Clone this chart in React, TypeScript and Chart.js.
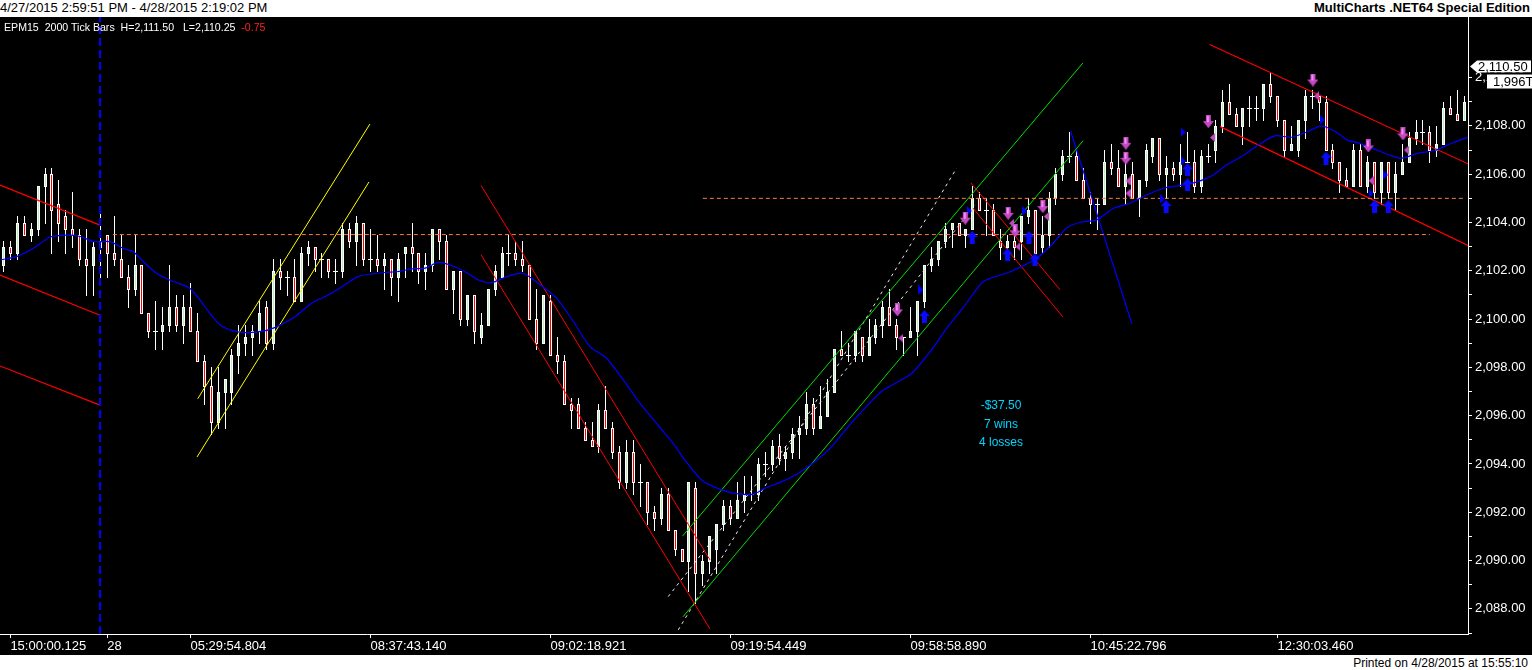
import React, { useEffect, useRef } from 'react';
import { Chart, registerables } from 'chart.js';

Chart.register(...registerables);

// ---------- DATA ----------
const opens = [
  2102.25, 2103.0, 2102.75, 2104.0, 2103.5, 2103.75, 2105.5, 2106.0, 2104.75, 2104.25,
  2103.75, 2103.5, 2102.5, 2102.25, 2103.0, 2103.5, 2102.75, 2102.5, 2101.75, 2101.25,
  2102.25, 2100.25, 2099.5, 2099.5, 2099.75, 2100.5, 2099.75, 2100.5, 2099.5, 2098.25,
  2097.25, 2095.75, 2097.0, 2097.0, 2098.5, 2099.0, 2099.25, 2099.5, 2100.5, 2099.0,
  2102.0, 2101.75, 2101.75, 2100.75, 2102.75, 2103.0, 2102.5, 2102.5, 2102.0, 2102.0,
  2103.75, 2103.25, 2104.0, 2102.5, 2102.5, 2102.25, 2102.5, 2101.75, 2102.75, 2103.0,
  2102.75, 2102.0, 2102.25, 2103.75, 2103.25, 2101.25, 2102.0, 2100.0, 2101.0, 2099.25,
  2099.75, 2101.25, 2101.75, 2102.75, 2102.75, 2102.5, 2102.25, 2100.0, 2099.0, 2100.75,
  2098.5, 2098.25, 2096.5, 2096.5, 2095.5, 2095.0, 2094.75, 2096.25, 2095.5, 2094.5,
  2093.25, 2094.5, 2093.25, 2093.25, 2092.0, 2091.75, 2092.75, 2091.25, 2090.5, 2090.0,
  2093.0, 2089.5, 2090.0, 2090.5, 2091.5, 2092.25, 2091.75, 2092.5, 2092.75, 2092.75,
  2094.0, 2094.0, 2094.75, 2094.25, 2094.5, 2095.25, 2095.5, 2096.5, 2095.5, 2096.0,
  2097.0, 2098.75, 2098.5, 2098.5, 2099.25, 2098.5, 2099.25, 2099.75, 2100.5, 2099.75,
  2099.25, 2099.25, 2099.5, 2100.75, 2102.25, 2102.5, 2103.25, 2103.75, 2104.0, 2103.5,
  2103.75, 2105.0, 2104.5, 2104.5, 2103.25, 2103.0, 2103.25, 2103.25, 2104.25, 2104.5,
  2103.0, 2103.5, 2105.0, 2106.0, 2106.75, 2106.75, 2105.75, 2105.0, 2104.75, 2104.75,
  2106.5, 2106.25, 2105.5, 2106.0, 2105.0, 2105.75, 2106.75, 2107.5, 2106.0, 2106.25,
  2106.0, 2106.5, 2106.5, 2105.5, 2106.75, 2107.0, 2108.0, 2109.0, 2108.5, 2108.0,
  2108.75, 2108.75, 2108.75, 2109.75, 2109.25, 2108.25, 2107.0, 2107.0, 2108.25, 2109.25,
  2109.25, 2109.0, 2107.0, 2106.5, 2105.75, 2105.5, 2107.0, 2105.5, 2106.5, 2105.25,
  2106.5, 2105.25, 2106.0, 2106.5, 2107.5, 2107.75, 2107.75, 2107.0, 2107.25, 2108.75,
  2108.5, 2108.25,
];
const highs = [
  2103.25, 2103.25, 2104.25, 2104.25, 2104.0, 2105.5, 2106.25, 2106.25, 2105.75, 2104.5,
  2105.25, 2103.75, 2103.75, 2103.25, 2104.5, 2103.5, 2104.25, 2103.5, 2102.25, 2103.5,
  2102.25, 2100.25, 2100.75, 2100.5, 2102.25, 2101.0, 2101.0, 2101.5, 2100.25, 2098.5,
  2098.0, 2098.0, 2097.5, 2098.75, 2099.75, 2099.75, 2099.75, 2100.75, 2100.75, 2102.5,
  2102.5, 2102.0, 2102.5, 2103.0, 2103.25, 2103.0, 2102.75, 2102.5, 2102.5, 2104.0,
  2104.0, 2104.25, 2104.0, 2103.75, 2103.5, 2102.75, 2102.5, 2102.75, 2103.0, 2104.0,
  2102.75, 2102.75, 2103.75, 2103.75, 2103.5, 2102.0, 2102.0, 2101.0, 2101.0, 2100.25,
  2101.25, 2102.25, 2103.0, 2103.5, 2103.25, 2103.25, 2102.25, 2101.25, 2101.0, 2101.0,
  2099.25, 2098.5, 2096.75, 2096.75, 2095.75, 2095.75, 2096.5, 2097.25, 2095.75, 2094.75,
  2095.0, 2095.0, 2094.0, 2093.25, 2092.25, 2093.0, 2093.0, 2091.25, 2090.5, 2093.25,
  2093.25, 2090.25, 2091.0, 2091.5, 2092.5, 2092.5, 2093.25, 2093.5, 2093.5, 2094.25,
  2094.5, 2095.0, 2095.25, 2094.75, 2095.5, 2096.0, 2097.0, 2096.75, 2097.25, 2097.5,
  2098.75, 2099.5, 2099.0, 2099.5, 2099.25, 2100.0, 2100.0, 2100.75, 2101.25, 2100.0,
  2099.25, 2100.5, 2100.75, 2102.25, 2103.0, 2103.25, 2104.0, 2104.0, 2104.0, 2103.75,
  2105.5, 2105.25, 2105.0, 2104.75, 2103.75, 2103.5, 2103.5, 2104.25, 2105.0, 2104.5,
  2104.25, 2105.25, 2106.25, 2107.0, 2107.75, 2107.0, 2106.25, 2105.25, 2105.0, 2107.0,
  2107.25, 2107.0, 2106.5, 2106.5, 2105.75, 2107.25, 2107.5, 2107.5, 2106.75, 2106.5,
  2107.25, 2107.75, 2107.0, 2107.0, 2107.25, 2108.25, 2109.5, 2109.75, 2108.75, 2108.75,
  2109.25, 2109.25, 2109.75, 2110.25, 2109.25, 2108.25, 2108.0, 2108.25, 2109.5, 2109.5,
  2109.25, 2109.25, 2107.25, 2106.5, 2106.25, 2107.25, 2107.25, 2106.75, 2106.5, 2106.5,
  2106.5, 2106.5, 2107.25, 2107.75, 2108.25, 2108.25, 2108.0, 2108.0, 2109.0, 2109.25,
  2109.5, 2109.25,
];
const lows = [
  2102.0, 2102.5, 2102.5, 2103.5, 2103.25, 2103.5, 2104.0, 2102.75, 2103.25, 2102.75,
  2103.0, 2102.25, 2101.0, 2101.0, 2101.75, 2101.75, 2102.25, 2101.75, 2100.5, 2101.0,
  2100.25, 2099.25, 2098.75, 2098.75, 2099.5, 2099.5, 2099.0, 2099.5, 2098.25, 2096.5,
  2095.25, 2095.5, 2095.5, 2096.5, 2097.75, 2098.5, 2098.5, 2099.0, 2098.75, 2098.75,
  2101.25, 2101.0, 2100.75, 2100.75, 2102.25, 2102.0, 2101.75, 2101.75, 2101.5, 2101.75,
  2103.0, 2102.25, 2102.25, 2102.0, 2102.0, 2101.25, 2101.0, 2100.75, 2101.75, 2102.0,
  2101.5, 2101.25, 2102.0, 2102.5, 2101.25, 2100.25, 2099.75, 2099.75, 2099.0, 2099.0,
  2099.75, 2101.0, 2101.75, 2102.25, 2102.25, 2102.0, 2100.0, 2098.75, 2099.0, 2098.5,
  2097.75, 2096.5, 2095.5, 2095.5, 2095.0, 2094.75, 2094.5, 2095.5, 2094.25, 2093.0,
  2093.0, 2092.75, 2092.25, 2091.5, 2091.25, 2091.5, 2091.25, 2090.25, 2090.0, 2088.75,
  2088.25, 2089.0, 2089.5, 2089.5, 2091.25, 2091.5, 2091.75, 2092.0, 2092.5, 2092.5,
  2093.5, 2093.75, 2094.0, 2093.75, 2094.25, 2094.25, 2095.25, 2095.25, 2095.5, 2096.0,
  2097.0, 2098.5, 2098.25, 2098.25, 2098.25, 2098.5, 2099.0, 2099.25, 2099.75, 2098.75,
  2098.5, 2099.25, 2098.5, 2100.5, 2102.0, 2102.25, 2103.0, 2103.0, 2103.5, 2103.0,
  2103.75, 2104.5, 2103.5, 2103.5, 2102.5, 2102.5, 2102.5, 2102.5, 2104.0, 2102.75,
  2102.75, 2103.0, 2104.75, 2105.75, 2106.5, 2105.75, 2105.0, 2104.0, 2103.75, 2104.75,
  2106.0, 2105.5, 2104.75, 2105.0, 2104.25, 2105.5, 2106.5, 2105.75, 2105.0, 2105.75,
  2105.5, 2106.5, 2105.25, 2105.25, 2106.5, 2106.5, 2107.75, 2108.5, 2108.0, 2107.25,
  2108.0, 2108.25, 2108.25, 2109.0, 2108.0, 2106.75, 2107.0, 2106.75, 2107.5, 2108.75,
  2108.25, 2107.0, 2106.25, 2105.25, 2105.5, 2105.5, 2105.5, 2105.25, 2105.0, 2104.75,
  2105.0, 2104.5, 2106.0, 2106.5, 2107.25, 2107.25, 2106.5, 2106.75, 2107.25, 2108.5,
  2108.25, 2108.25,
];
const closes = [
  2103.0, 2102.75, 2104.0, 2103.5, 2103.75, 2105.5, 2106.0, 2104.5, 2104.0, 2103.75,
  2103.5, 2102.5, 2102.25, 2103.0, 2103.25, 2102.75, 2102.5, 2101.75, 2101.25, 2102.25,
  2100.25, 2099.5, 2099.5, 2099.75, 2100.5, 2099.75, 2100.5, 2099.5, 2098.25, 2097.25,
  2095.75, 2097.0, 2097.5, 2098.5, 2099.0, 2099.25, 2099.5, 2100.25, 2099.0, 2102.0,
  2101.75, 2101.75, 2100.75, 2102.75, 2103.0, 2102.5, 2102.5, 2102.0, 2102.0, 2103.75,
  2103.25, 2104.0, 2102.5, 2102.5, 2102.25, 2102.5, 2101.75, 2102.5, 2103.0, 2102.75,
  2102.0, 2102.25, 2103.75, 2103.25, 2101.25, 2102.0, 2100.0, 2101.0, 2099.5, 2099.75,
  2101.25, 2102.0, 2102.75, 2102.75, 2102.5, 2102.25, 2100.0, 2099.0, 2101.0, 2098.5,
  2098.25, 2096.5, 2096.25, 2095.5, 2095.0, 2094.75, 2096.25, 2095.5, 2094.5, 2093.25,
  2094.5, 2093.25, 2093.25, 2092.0, 2091.75, 2092.75, 2091.25, 2090.5, 2090.0, 2093.25,
  2089.5, 2090.0, 2091.0, 2091.5, 2092.25, 2091.75, 2092.5, 2092.75, 2092.75, 2094.0,
  2094.0, 2094.75, 2094.25, 2094.5, 2095.25, 2095.5, 2096.5, 2095.5, 2096.0, 2097.0,
  2098.75, 2098.5, 2098.5, 2099.5, 2098.5, 2099.25, 2099.75, 2100.5, 2099.75, 2099.25,
  2099.25, 2099.5, 2100.75, 2102.25, 2102.5, 2103.25, 2103.75, 2104.0, 2103.5, 2103.75,
  2105.0, 2104.5, 2104.5, 2103.5, 2103.0, 2103.25, 2103.0, 2104.25, 2104.5, 2102.75,
  2103.5, 2105.0, 2106.0, 2106.75, 2106.75, 2105.75, 2105.0, 2104.75, 2104.75, 2106.5,
  2106.25, 2105.5, 2106.0, 2105.0, 2105.75, 2107.0, 2107.5, 2106.0, 2106.25, 2106.0,
  2106.5, 2106.5, 2105.5, 2106.75, 2106.75, 2108.0, 2109.0, 2108.5, 2108.0, 2108.75,
  2108.75, 2108.75, 2109.75, 2109.25, 2108.25, 2107.0, 2107.25, 2108.25, 2109.25, 2109.25,
  2109.0, 2107.0, 2106.5, 2105.75, 2105.5, 2107.0, 2105.5, 2106.5, 2105.25, 2106.5,
  2105.25, 2106.0, 2106.5, 2107.5, 2107.75, 2107.75, 2107.0, 2107.25, 2108.75, 2108.5,
  2108.25, 2109.0,
];

// moving average (bar position, price)
const maBars = [
  -0.4, 2, 4.3, 6.7, 9.1, 11.1, 13, 15.4, 17.3, 18.75, 20.2, 22.1, 24, 25.5, 26.9, 28.4, 29.8, 31.3, 33.2, 35.1,
  37.8, 39.7, 42.1, 44.5, 46.9, 49.3, 51.2, 53.2, 55.1, 57, 59, 60.9, 62.8, 64.7, 66.6, 68.6, 70.5, 72.7, 75,
  77.5, 79.9, 82.3, 84.7, 87.1, 89.5, 91.9, 94.3, 95.5, 96.7, 98.4, 100.8, 103.7, 106.1, 108.3, 110, 112.4,
  114.8, 117.2, 119.6, 122, 124.4, 126.8, 129.2, 131.2, 134, 136.4, 138.9, 141.5, 145.3, 149.2, 151.6, 153.5,
  155.5, 157.9, 160.3, 162.7, 165.1, 167.5, 169.9, 172.3, 174.7, 176.4, 178.8, 181.2, 183.6, 186, 188.4, 190.3,
  192.3, 194.2, 195.6, 198.1, 200.5, 201.9, 204.3, 206.7, 209.1, 211.5,
];
const maValues = [
  2102.45, 2102.6, 2102.93, 2103.39, 2103.48, 2103.42, 2103.21, 2103.21, 2102.93, 2102.79, 2102.38, 2101.9, 2101.62, 2101.46, 2101.28, 2100.79, 2100.24, 2099.76, 2099.51, 2099.44,
  2099.52, 2099.72, 2100.1, 2100.66, 2101.0, 2101.42, 2101.76, 2101.87, 2101.93, 2101.97, 2102.08, 2102.11, 2102.35, 2102.22, 2101.97, 2101.62, 2101.51, 2101.76, 2101.9,
  2101.42, 2100.86, 2099.9, 2098.86, 2098.38, 2097.48, 2096.52, 2095.69, 2095.27, 2094.86, 2094.17, 2093.34, 2092.93, 2092.76, 2092.75, 2093.0, 2093.27,
  2093.62, 2094.1, 2094.72, 2095.55, 2096.31, 2097.0, 2097.41, 2097.76, 2098.72, 2099.69, 2100.59, 2101.55, 2101.95, 2102.52, 2103.14, 2103.76,
  2104.01, 2104.11, 2104.59, 2104.8, 2105.14, 2105.42, 2105.53, 2105.67, 2105.97, 2106.34, 2106.73, 2107.21, 2107.59, 2107.53, 2107.77, 2108.0,
  2107.77, 2107.39, 2107.31, 2107.03, 2106.76, 2106.66, 2106.87, 2106.98, 2107.28, 2107.53,
];

// drawn lines: [barFrom, priceFrom, barTo, priceTo]
const leftChannel = [
  [-0.5, 2105.55, 13.85, 2103.9],
  [-0.5, 2101.82, 13.85, 2100.17],
  [-0.5, 2098.06, 13.85, 2096.45],
];
const yellowChannel = [
  [28.05, 2096.7, 52.93, 2108.08],
  [27.95, 2094.29, 52.79, 2105.68],
];
const fallingChannel = [
  [68.96, 2105.54, 102.03, 2090.03],
  [68.96, 2102.67, 102.03, 2087.17],
];
const greenChannel = [
  [98.08, 2091.02, 155.9, 2110.61],
  [98.13, 2087.67, 155.9, 2107.38],
];
const whiteDashLines = [
  [97.45, 2087.13, 137.65, 2106.25],
  [96.0, 2088.51, 140.3, 2104.73],
];
const shortRedLines = [
  [139.7, 2105.64, 152.6, 2101.21],
  [140.0, 2104.6, 153.0, 2100.09],
];
const blueSteepLines = [[154.1, 2107.79, 162.96, 2099.8]];
const rightChannel = [
  [174.2, 2111.37, 211.5, 2106.43],
  [175.7, 2107.97, 211.5, 2103.05],
];
// horizontal levels: [barFrom, barTo, price]
const levelLines = [
  [15.8, 206.0, 2103.5],
  [101.0, 211.05, 2105.0],
];
const sessionBreakBar = 13.95;

// trade markers: [bar, price]
const sellArrows = [
  [129.1, 2100.38], [138.9, 2104.18], [145.1, 2104.38], [146.1, 2103.65], [150.1, 2104.66],
  [162.1, 2107.28], [162.1, 2106.66], [174.0, 2108.18], [189.1, 2109.9], [197.1, 2107.17], [202.1, 2107.67],
];
const buyArrows = [
  [133.0, 2100.1], [139.9, 2103.38], [145.0, 2102.66], [148.1, 2103.38], [148.96, 2102.45],
  [167.9, 2104.66], [171.0, 2106.18], [171.0, 2105.56], [191.0, 2106.66], [198.0, 2104.66], [200.0, 2104.66],
];
const exitLeftMarks = [
  [129.6, 2099.21], [145.6, 2103.97], [150.6, 2104.25], [146.5, 2103.0], [162.4, 2105.72],
  [162.4, 2105.21], [174.6, 2107.52], [189.6, 2109.24], [197.5, 2105.73], [202.6, 2107.0],
];
const exitRightMarks = [
  [132.5, 2101.21], [139.5, 2104.48], [147.5, 2104.48], [167.4, 2104.98], [170.4, 2106.55],
  [170.4, 2107.74], [190.5, 2108.25], [197.5, 2105.21], [199.6, 2105.97],
];

// axes
const tickBars = [1, 15, 27, 53, 79, 105, 131, 157, 184];
const timeLabels = ['15:00:00.125', '28', '05:29:54.804', '08:37:43.140', '09:02:18.921', '09:19:54.449', '09:58:58.890', '10:45:22.796', '12:30:03.460'];
const priceTicks = [2088, 2090, 2092, 2094, 2096, 2098, 2100, 2102, 2104, 2106, 2108, 2110];
const priceMin = 2086.96;
const priceMax = 2112.51;
const lastPrice = 2110.5;
const tickCountLabel = '1,996T';
const headerRange = '4/27/2015 2:59:51 PM - 4/28/2015 2:19:02 PM';
const statLines = ['-$37.50', '7 wins', '4 losses'];

// ---------- RENDER ----------
const FONT = '"Liberation Sans", Arial, sans-serif';
const UP_FILL = '#b8f0b8';
const DOWN_FILL = '#ff0000';

function makeMarker(kind: string): HTMLCanvasElement {
  const c = document.createElement('canvas');
  const ctx = c.getContext('2d') as CanvasRenderingContext2D;
  if (kind === 'down') {
    c.width = 11; c.height = 13;
    ctx.fillStyle = '#c548c5';
    ctx.beginPath();
    ctx.moveTo(3, 0); ctx.lineTo(8, 0); ctx.lineTo(8, 6); ctx.lineTo(11, 6);
    ctx.lineTo(5.5, 13); ctx.lineTo(0, 6); ctx.lineTo(3, 6); ctx.closePath(); ctx.fill();
    ctx.fillStyle = '#f08cf0';
    ctx.fillRect(4, 1, 2, 6);
  } else if (kind === 'up') {
    c.width = 11; c.height = 13;
    ctx.fillStyle = '#0a0aff';
    ctx.beginPath();
    ctx.moveTo(5.5, 0); ctx.lineTo(11, 6); ctx.lineTo(8, 6); ctx.lineTo(8, 13);
    ctx.lineTo(3, 13); ctx.lineTo(3, 6); ctx.lineTo(0, 6); ctx.closePath(); ctx.fill();
  } else if (kind === 'left') {
    c.width = 5; c.height = 9;
    ctx.fillStyle = '#c548c5';
    ctx.beginPath(); ctx.moveTo(5, 0); ctx.lineTo(0, 4.5); ctx.lineTo(5, 9); ctx.closePath(); ctx.fill();
  } else {
    c.width = 5; c.height = 9;
    ctx.fillStyle = '#0000ff';
    ctx.beginPath(); ctx.moveTo(0, 0); ctx.lineTo(5, 4.5); ctx.lineTo(0, 9); ctx.closePath(); ctx.fill();
  }
  return c;
}

function seg(s: number[], color: string, dash: number[] = [], width = 1) {
  return {
    type: 'line',
    data: [{ x: s[0], y: s[1] }, { x: s[2], y: s[3] }],
    borderColor: color,
    borderWidth: width,
    borderDash: dash,
    pointRadius: 0,
    fill: false,
    tension: 0,
    xAxisID: 'xl',
    yAxisID: 'y',
    order: 2,
  };
}

function markers(list: number[][], img: HTMLCanvasElement) {
  return {
    type: 'line',
    data: list.map((p) => ({ x: p[0], y: p[1] })),
    showLine: false,
    pointStyle: img,
    pointRadius: 5,
    pointHoverRadius: 5,
    xAxisID: 'xl',
    yAxisID: 'y',
    order: 1,
  };
}

// candlesticks drawn from the OHLC arrays through the chart's own x / y scales
const candlePlugin = {
  id: 'candles',
  beforeDatasetsDraw(chart: any) {
    const ctx = chart.ctx as CanvasRenderingContext2D;
    const xs = chart.scales.x;
    const ys = chart.scales.y;
    const area = chart.chartArea;
    ctx.save();
    ctx.beginPath();
    ctx.rect(area.left, area.top, area.right - area.left, area.bottom - area.top);
    ctx.clip();
    for (let i = 0; i < opens.length; i++) {
      const o = opens[i];
      const c = closes[i];
      const cx = Math.floor(xs.getPixelForValue(i));
      const yH = Math.round(ys.getPixelForValue(highs[i]));
      const yL = Math.round(ys.getPixelForValue(lows[i]));
      ctx.fillStyle = '#ffffff';
      ctx.fillRect(cx, yH, 1, yL - yH + 1);
      const top = Math.round(ys.getPixelForValue(Math.max(o, c)));
      const bot = Math.round(ys.getPixelForValue(Math.min(o, c)));
      if (bot - top < 2) {
        ctx.fillRect(cx - 2, top, 5, 1);
      } else {
        ctx.fillRect(cx - 1, top, 3, bot - top + 1);
        ctx.fillStyle = c > o ? UP_FILL : DOWN_FILL;
        ctx.fillRect(cx, top + 1, 1, bot - top - 1);
      }
    }
    ctx.restore();
  },
};

const priceTagPlugin = {
  id: 'priceTag',
  afterDraw(chart: any) {
    const ctx = chart.ctx as CanvasRenderingContext2D;
    const y = Math.round(chart.scales.y.getPixelForValue(lastPrice)) + 0.5;
    const x0 = chart.chartArea.right;
    ctx.save();
    ctx.fillStyle = '#ffffff';
    ctx.beginPath();
    ctx.moveTo(x0 + 2, y);
    ctx.lineTo(x0 + 9, y - 6);
    ctx.lineTo(x0 + 63, y - 6);
    ctx.lineTo(x0 + 63, y + 6);
    ctx.lineTo(x0 + 9, y + 6);
    ctx.closePath();
    ctx.fill();
    ctx.fillStyle = '#000000';
    ctx.font = '13px ' + FONT;
    ctx.textBaseline = 'middle';
    ctx.textAlign = 'left';
    ctx.fillText(lastPrice.toLocaleString('en-US', { minimumFractionDigits: 2 }), x0 + 10, y + 0.5);
    ctx.fillStyle = '#000000';
    ctx.fillRect(x0 + 19, y + 6, 45, 3);
    ctx.fillStyle = '#ffffff';
    ctx.fillRect(x0 + 19, y + 8, 45, 14);
    ctx.fillStyle = '#000000';
    ctx.fillText(tickCountLabel, x0 + 25, y + 15.5);
    ctx.restore();
  },
};

export default function App() {
  const ref = useRef<HTMLCanvasElement>(null);

  useEffect(() => {
    document.body.style.margin = '0';
    const down = makeMarker('down');
    const up = makeMarker('up');
    const left = makeMarker('left');
    const right = makeMarker('right');

    const labels = opens.map((_, i) => String(i));

    const datasets: any[] = [
      {
        type: 'line',
        data: maBars.map((b, i) => ({ x: b, y: maValues[i] })),
        borderColor: '#0000ff',
        borderWidth: 1.2,
        pointRadius: 0,
        tension: 0.25,
        fill: false,
        xAxisID: 'xl',
        yAxisID: 'y',
        order: 2,
      },
      ...levelLines.map((l) => seg([l[0], l[2], l[1], l[2]], '#ff7a3c', [4, 3], 1)),
      seg([sessionBreakBar, priceMin, sessionBreakBar, priceMax], '#0000ff', [8, 4], 2),
      ...leftChannel.map((s) => seg(s, '#ff0000', [], 1.2)),
      ...yellowChannel.map((s) => seg(s, '#ffff00', [], 1)),
      ...fallingChannel.map((s) => seg(s, '#ff0000', [], 1)),
      ...greenChannel.map((s) => seg(s, '#00e000', [], 1)),
      ...whiteDashLines.map((s) => seg(s, '#e8e8e8', [3, 4], 1)),
      ...shortRedLines.map((s) => seg(s, '#ff0000', [], 1)),
      ...blueSteepLines.map((s) => seg(s, '#0000ff', [], 1.2)),
      ...rightChannel.map((s) => seg(s, '#ff0000', [], 1.2)),
      markers(sellArrows, down),
      markers(buyArrows, up),
      markers(exitLeftMarks, left),
      markers(exitRightMarks, right),
    ];

    const chart = new Chart(ref.current as HTMLCanvasElement, {
      type: 'bar',
      data: { labels, datasets },
      options: {
        responsive: false,
        animation: false,
        events: [],
        layout: { padding: 0, autoPadding: false },
        plugins: { legend: { display: false }, tooltip: { enabled: false } },
        scales: {
          x: {
            type: 'category',
            position: 'bottom',
            offset: true,
            min: 0,
            max: opens.length - 1,
            grid: {
              display: true,
              drawOnChartArea: false,
              offset: false,
              tickLength: 4,
              tickColor: (c: any) => (tickBars.includes(c.index) ? '#ffffff' : 'rgba(0,0,0,0)'),
            },
            border: { display: true, color: '#ffffff', width: 1 },
            ticks: {
              autoSkip: false,
              maxRotation: 0,
              minRotation: 0,
              align: 'start',
              padding: 1,
              color: '#ffffff',
              font: { family: FONT, size: 13 },
              callback: (_v: any, i: number) => {
                const k = tickBars.indexOf(i);
                return k >= 0 ? timeLabels[k] : '';
              },
            },
            afterFit: (s: any) => {
              s.height = 21;
              s.paddingLeft = 0;
              s.paddingRight = 0;
            },
          },
          xl: {
            type: 'linear',
            display: false,
            offset: false,
            grid: { offset: false },
            bounds: 'data',
            min: -0.5,
            max: opens.length - 0.5,
          },
          y: {
            type: 'linear',
            position: 'right',
            min: priceMin,
            max: priceMax,
            grid: {
              display: true,
              drawOnChartArea: false,
              tickLength: 4,
              tickColor: (c: any) => (c.tick && c.tick.value > 2110.5 ? 'rgba(0,0,0,0)' : '#ffffff'),
            },
            border: { display: true, color: '#ffffff', width: 1 },
            ticks: {
              stepSize: 1,
              includeBounds: false,
              padding: 3,
              color: '#ffffff',
              font: { family: FONT, size: 13 },
              callback: (v: any) => {
                const n = Number(v);
                return priceTicks.some((p) => Math.abs(p - n) < 1e-6)
                  ? n.toLocaleString('en-US', { minimumFractionDigits: 2, maximumFractionDigits: 2 })
                  : '';
              },
            },
            afterFit: (s: any) => {
              s.width = 64;
              s.paddingTop = 0;
              s.paddingBottom = 0;
            },
          },
        },
      } as any,
      plugins: [candlePlugin, priceTagPlugin],
    } as any);

    return () => chart.destroy();
  }, []);

  return (
    <div
      style={{
        position: 'fixed',
        left: 0,
        top: 0,
        width: 1532,
        height: 670,
        background: '#000',
        overflow: 'hidden',
        fontFamily: FONT,
      }}
    >
      <div style={{ position: 'absolute', left: 0, top: 0, width: 1532, height: 17, background: '#fff' }}>
        <span style={{ position: 'absolute', left: 0, top: 0, fontSize: 13, lineHeight: '16px', color: '#000', whiteSpace: 'nowrap' }}>
          {headerRange}
        </span>
        <span
          style={{ position: 'absolute', right: 2, top: 0, fontSize: 13, lineHeight: '16px', fontWeight: 'bold', color: '#000', whiteSpace: 'nowrap' }}
        >
          MultiCharts .NET64 Special Edition
        </span>
      </div>
      <canvas
        ref={ref}
        width={1532}
        height={638}
        style={{ position: 'absolute', left: 0, top: 17, width: 1532, height: 638 }}
      />
      <div
        style={{ position: 'absolute', left: 4, top: 20, fontSize: 10.6, color: '#fff', whiteSpace: 'pre', lineHeight: '14px' }}
      >
        {'EPM15  2000 Tick Bars  H=2,111.50   L=2,110.25  '}
        <span style={{ color: '#ff2020' }}>-0.75</span>
      </div>
      <div
        style={{
          position: 'absolute',
          left: 951,
          top: 396,
          width: 100,
          textAlign: 'center',
          fontSize: 12,
          lineHeight: '18.5px',
          color: '#00d4ff',
        }}
      >
        {statLines.map((t) => (
          <div key={t}>{t}</div>
        ))}
      </div>
      <div style={{ position: 'absolute', left: 0, top: 655, width: 1532, height: 15, background: '#fff' }}>
        <span style={{ position: 'absolute', right: 4, top: 1, fontSize: 12, color: '#000', whiteSpace: 'nowrap' }}>
          Printed on 4/28/2015 at 15:55:10
        </span>
      </div>
    </div>
  );
}
